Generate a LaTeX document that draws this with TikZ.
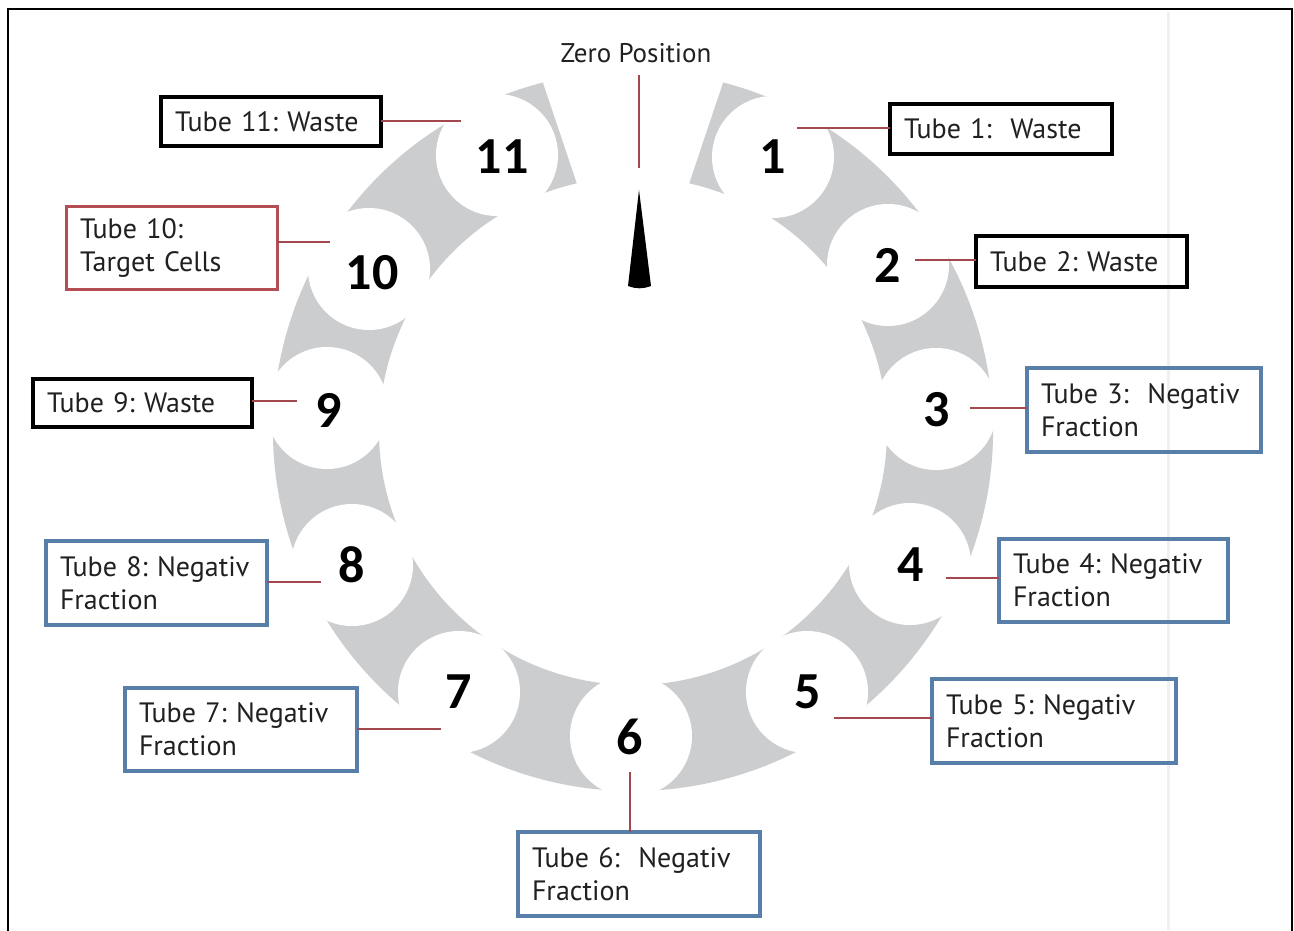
\documentclass[tikz,border=0pt]{standalone}
\usepackage{fontspec}
\setmainfont{PT Sans}
\newfontfamily\numfont{Carlito}
\frenchspacing
\definecolor{ringgray}{RGB}{204,205,207}
\definecolor{conred}{RGB}{163,72,78}
\definecolor{boxblue}{RGB}{88,126,170}
\definecolor{boxred}{RGB}{178,78,84}
\definecolor{txt}{RGB}{32,32,32}
\begin{document}
\begin{tikzpicture}[x=1pt,y=1pt,
  lbl/.style={font=\fontsize{28}{33}\selectfont, text=txt, inner xsep=14pt, inner ysep=0pt,
              align=left, anchor=north west, outer sep=0pt},
  wastebox/.style={lbl, draw=black, line width=4.5pt},
  negbox/.style={lbl, draw=boxblue, line width=3.5pt},
  redbox/.style={lbl, draw=boxred, line width=3pt},
  num/.style={font=\numfont\bfseries\fontsize{52}{60}\selectfont, inner sep=0pt, text=black},
  con/.style={draw=conred, line width=2.5pt},
  hole/.style={fill=white}
]
\useasboundingbox (0,0) rectangle (1294,-930);
\fill[white] (0,0) rectangle (1294,-930);
% faint page edge
\draw[black!6, line width=3pt] (1168,-12) -- (1168,-930);
% frame
\draw[line width=2pt] (8,-960) -- (8,-9) -- (1292,-9) -- (1292,-960);

% gray ring with gap at zero position
\begin{scope}[shift={(633,-431)}]
\fill[ringgray] (104.5:360) arc[start angle=104.5, end angle=435.5, radius=360]
  -- (77.2:254) arc[start angle=77.2, end angle=-257.2, radius=254] -- cycle;
\end{scope}

% tube holes
\foreach \p in {(773,-157),(888,-265),(936,-409),(910,-564),(807,-692),(631,-736),
                (459,-692),(352,-565),(327,-408),(369,-269),(497,-155)}
  \fill[hole] \p circle[radius=61];

% numbers
\node[num] (n1)  at (773,-157) {1};
\node[num] (n2)  at (888,-265) {2};
\node[num] (n3)  at (937,-410) {3};
\node[num] (n4)  at (911,-565) {4};
\node[num] (n5)  at (808,-692) {5};
\node[num] (n6)  at (630,-737) {6};
\node[num] (n7)  at (459,-692) {7};
\node[num] (n8)  at (352,-565) {8};
\node[num] (n9)  at (329,-410) {9};
\node[num] (n10) at (372,-273) {10};
\node[num] (n11) at (502,-157) {11};

% zero position
\node[font=\fontsize{27}{32}\selectfont, text=txt, inner sep=0pt] (zero) at (636,-53) {Zero Position};
\coordinate (zt) at (639,-75);
\coordinate (zb) at (639,-168);
\draw[con] (zt) -- (zb);
\fill[black] (639,-190) -- (651,-286) to[bend left=20] (628,-286) -- cycle;

% label boxes
\node[wastebox, text width=192pt, minimum height=49pt] (t11) at (161,-97) {Tube 11: Waste};
\node[wastebox, text width=194pt, minimum height=50pt] (t1)  at (890,-104) {Tube 1:\ \ Waste};
\node[wastebox, text width=183pt, minimum height=51pt] (t2)  at (976,-236) {Tube 2: Waste};
\node[negbox, text width=206pt, minimum height=84pt] (t3)  at (1027,-368) {Tube 3:\ \ Negativ\\Fraction};
\node[negbox, text width=201pt, minimum height=83pt] (t4)  at (999,-539) {Tube 4: Negativ\\Fraction};
\node[negbox, text width=216pt, minimum height=84pt] (t5)  at (932,-679) {Tube 5: Negativ\\Fraction};
\node[negbox, text width=214pt, minimum height=84pt] (t6)  at (518,-832) {Tube 6:\ \ Negativ\\Fraction};
\node[negbox, text width=204pt, minimum height=83pt] (t7)  at (125,-688) {Tube 7: Negativ\\Fraction};
\node[negbox, text width=193pt, minimum height=84pt] (t8)  at (46,-541) {Tube 8: Negativ\\Fraction};
\node[wastebox, text width=191pt, minimum height=48pt] (t9)  at (33,-379) {Tube 9: Waste};
\node[redbox, text width=183pt, minimum height=83pt] (t10) at (66,-206) {Tube 10:\\Target Cells};

% connector free ends
\coordinate (e11) at (461,-121);
\coordinate (e1)  at (797,-128);
\coordinate (e2)  at (915,-260);
\coordinate (e3)  at (970,-408);
\coordinate (e4)  at (946,-578);
\coordinate (e5)  at (834,-718);
\coordinate (e6)  at (630,-772);
\coordinate (e7)  at (441,-729);
\coordinate (e8)  at (321,-582);
\coordinate (e9)  at (297,-401);
\coordinate (e10) at (330,-242);

\draw[con] (t11.east |- e11) -- (e11);
\draw[con] (t1.west |- e1) -- (e1);
\draw[con] (t2.west |- e2) -- (e2);
\draw[con] (t3.west |- e3) -- (e3);
\draw[con] (t4.west |- e4) -- (e4);
\draw[con] (t5.west |- e5) -- (e5);
\draw[con] (t6.north -| e6) -- (e6);
\draw[con] (t7.east |- e7) -- (e7);
\draw[con] (t8.east |- e8) -- (e8);
\draw[con] (t9.east |- e9) -- (e9);
\draw[con] (t10.east |- e10) -- (e10);
\end{tikzpicture}
\end{document}
